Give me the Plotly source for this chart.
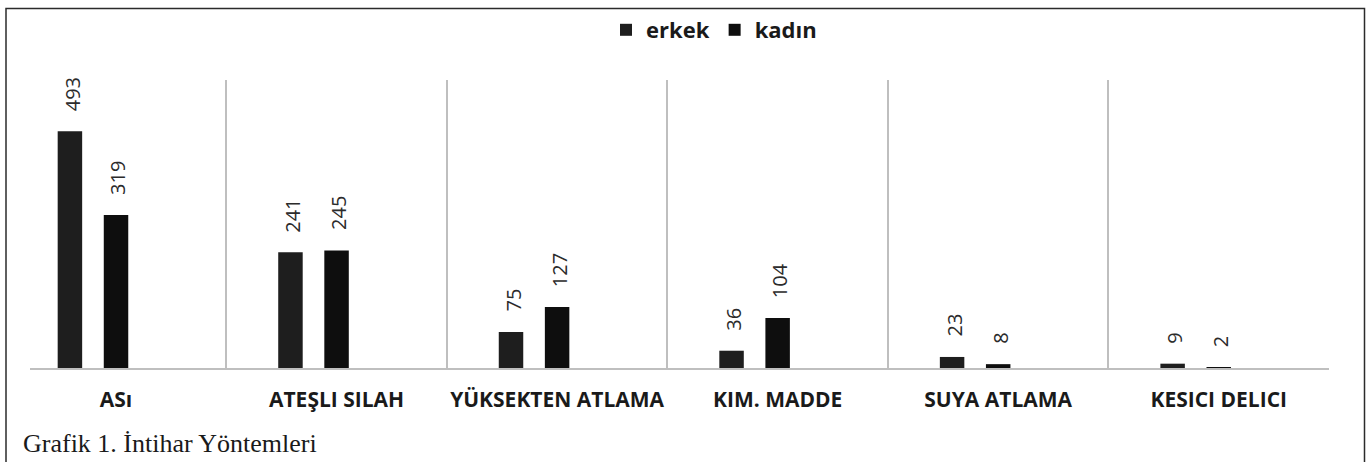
import plotly.graph_objects as go

categories = ["ASı", "ATEŞLI SILAH", "YÜKSEKTEN ATLAMA", "KIM. MADDE", "SUYA ATLAMA", "KESICI DELICI"]
erkek = [493, 241, 75, 36, 23, 9]
kadin = [319, 245, 127, 104, 8, 2]
series_names = ["erkek", "kadın"]
caption = "Grafik 1. İntihar Yöntemleri"

W, H = 1367, 462
ML, MR, MT, MB = 30, 38, 80, 94
pw, ph = W - ML - MR, H - MT - MB

def px_x(p):
    return (p - ML) / pw

def px_y(p):
    return (H - MB - p) / ph

bar_w = 0.111
offsets = [-0.209, 0.0]
colors = ["#1e1e1e", "#0e0e0e"]

fig = go.Figure()
for name, vals, off, col in zip(series_names, [erkek, kadin], offsets, colors):
    fig.add_trace(go.Bar(
        x=categories, y=vals, name=name,
        width=bar_w, offset=off - bar_w / 2,
        marker=dict(color=col, line=dict(width=0)),
    ))
    for i, v in enumerate(vals):
        fig.add_annotation(
            x=i + off, y=v, xref="x", yref="y",
            text=str(v), textangle=-90, showarrow=False,
            xanchor="center", yanchor="bottom", yshift=18, xshift=2,
            font=dict(family="Open Sans", size=20, color="#2b2b2b"),
        )

fig.update_layout(
    width=W, height=H,
    margin=dict(l=ML, r=MR, t=MT, b=MB, pad=0, autoexpand=False),
    paper_bgcolor="white", plot_bgcolor="white",
    barmode="overlay",
    showlegend=True,
    legend=dict(
        orientation="h", x=px_x(714), y=px_y(30),
        xanchor="center", yanchor="middle",
        font=dict(family="Open Sans", size=22, color="#1a1a1a", weight="bold"),
        itemwidth=30, traceorder="normal",
        bgcolor="rgba(0,0,0,0)",
    ),
    xaxis=dict(
        type="category", range=[-0.39, 5.5],
        tickson="boundaries", ticks="", showgrid=True,
        gridcolor="#bfbfbf", gridwidth=1.5,
        showline=True, linecolor="#bfbfbf", linewidth=2,
        tickfont=dict(family="Open Sans", size=21, color="#1a1a1a", weight="bold"),
        tickangle=0, automargin=False,
        ticklabelstandoff=12,
        zeroline=False,
    ),
    yaxis=dict(
        range=[0, 600], visible=False, showgrid=False, zeroline=False,
        automargin=False,
    ),
)

# outer frame
fig.add_shape(type="rect", xref="paper", yref="paper",
              x0=px_x(6), x1=px_x(1364.5), y0=px_y(480), y1=px_y(8.5),
              line=dict(color="#2b2b2b", width=1.5), fillcolor="rgba(0,0,0,0)",
              layer="below")

fig.add_annotation(
    text=caption, xref="paper", yref="paper",
    x=px_x(21), y=px_y(443), xanchor="left", yanchor="middle",
    showarrow=False,
    font=dict(family="Liberation Serif", size=26, color="#1a1a1a"),
)

fig.write_html("out.html")
